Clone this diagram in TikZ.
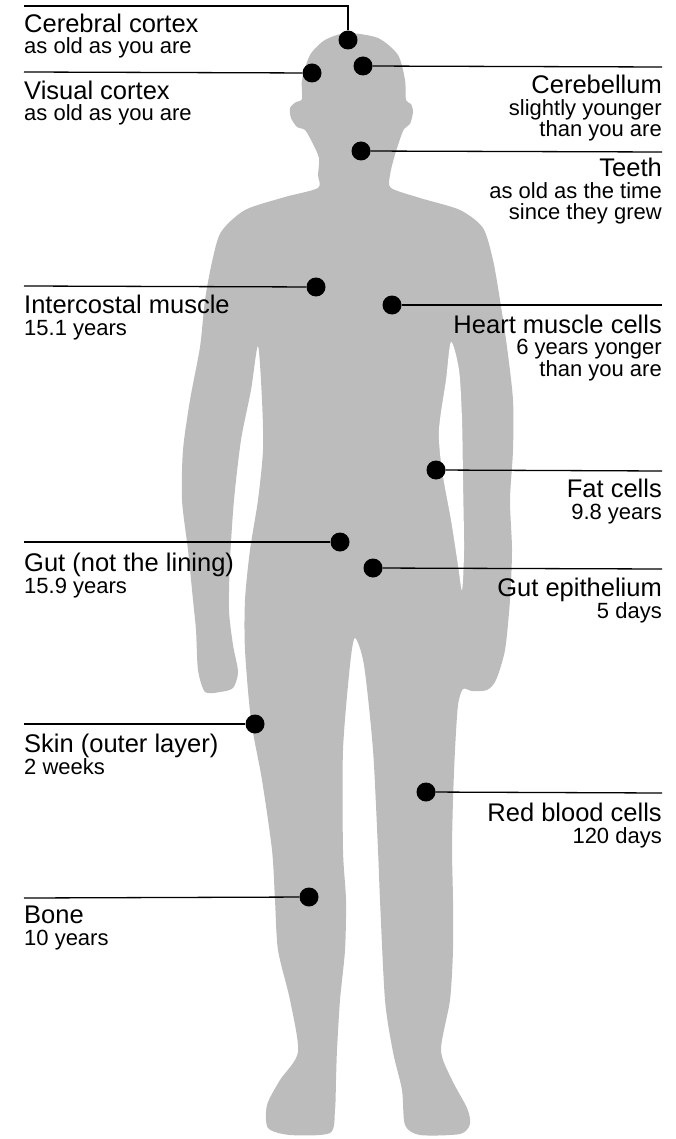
\documentclass[tikz,border=0pt]{standalone}
\usepackage{fontspec}
\setmainfont{Liberation Sans}
\definecolor{bodygray}{RGB}{188,188,188}
\newcommand\labelhead[1]{{\fontsize{25.5}{21.5}\selectfont #1}}
\begin{document}
\begin{tikzpicture}[x=1pt,y=-1pt,
  dot/.style={circle,fill=black,inner sep=0pt,minimum size=19pt},
  lead/.style={line width=1.3pt,black},
  lbl/.style={inner sep=0pt,font=\fontsize{22}{21.5}\selectfont},
  lleft/.style={lbl,anchor=base west,align=left},
  lright/.style={lbl,anchor=base east,align=right}]
\useasboundingbox (0,0) rectangle (676,1139);

% body silhouette
\fill[bodygray] plot[smooth cycle,tension=0.45] coordinates {
  (347,33) (378,38) (398,55) (405,80) (406,100)
  (411,104) (413,112) (410,124) (404,129)
  (399,142) (394,158) (390,175) (391,188)
  (420,198) (460,210) (483,228) (493,260)
  (500,300) (507,347) (513,400) (513,450) (510,500) (512,550) (510,600) (505,650) (496,680) (487,690) (472,691) (463,689)
  (458,705) (455,750) (453,800) (452,850) (453,900) (453,950) (450,1000) (441,1050)
  (452,1080) (467,1108) (470,1124) (460,1134) (420,1135) (405,1125) (402,1090) (393,1052)
  (385,1000) (380,900) (378,850) (373,750) (364,665) (355,638)
  (350,665) (343,750) (343,850) (346,900) (345,950) (340,1000) (337,1050)
  (336,1080) (335,1110) (330,1133) (290,1135) (268,1128) (267,1105) (280,1080) (298,1052)
  (290,1000) (278,950) (275,900) (272,850) (262,780) (251,720) (245,650) (245,600) (250,550) (258,500) (263,450) (262,400) (258,346)
  (251,390) (241,440) (234,500) (230,560) (229,610) (233,645) (238,672) (233,688) (220,692)
  (205,692) (198,670) (196,630) (193,600) (188,550) (182,500) (183,450) (190,400) (200,347) (205,300) (212,262) (221,232)
  (245,210) (285,197) (318,188)
  (318,175) (319,158) (312,142) (305,130)
  (297,127) (291,118) (290,108) (296,102) (302,99)
  (302,80) (310,55) (325,40)
};
% gap between the right arm and the torso
\fill[white] plot[smooth cycle,tension=0.5] coordinates {
  (451,342) (446,380) (439,430) (442,470) (451,520) (458,565) (462,590) (464,550) (463,480) (462,420) (459,370)
};

% markers
\node[dot] (cc) at (348,40) {};
\node[dot] (vc) at (312,73) {};
\node[dot] (cb) at (363,66) {};
\node[dot] (te) at (361,151) {};
\node[dot] (ic) at (316,287) {};
\node[dot] (hm) at (392,305) {};
\node[dot] (fc) at (436,470) {};
\node[dot] (gn) at (340,542) {};
\node[dot] (ge) at (373,568) {};
\node[dot] (sk) at (255,724) {};
\node[dot] (rb) at (426,792) {};
\node[dot] (bo) at (309,897) {};

% ends of the leader lines
\coordinate (ccE) at (24,6);
\coordinate (vcE) at (24,72);
\coordinate (cbE) at (662,67);
\coordinate (teE) at (662,152);
\coordinate (icE) at (24,286);
\coordinate (hmE) at (662,305);
\coordinate (fcE) at (662,471);
\coordinate (gnE) at (24,542);
\coordinate (geE) at (662,569);
\coordinate (skE) at (24,724);
\coordinate (rbE) at (662,793);
\coordinate (boE) at (24,898);

\draw[lead] (cc) |- (ccE);
\draw[lead] (vc) -- (vcE);
\draw[lead] (cb) -- (cbE);
\draw[lead] (te) -- (teE);
\draw[lead] (ic) -- (icE);
\draw[lead] (hm) -- (hmE);
\draw[lead] (fc) -- (fcE);
\draw[lead] (gn) -- (gnE);
\draw[lead] (ge) -- (geE);
\draw[lead] (sk) -- (skE);
\draw[lead] (rb) -- (rbE);
\draw[lead] (bo) -- (boE);

% labels (placed by the baseline of their last line)
\node[lleft] (ccT) at (24,54) {\labelhead{Cerebral cortex}\\as old as you are};
\node[lleft] (vcT) at (24,121) {\labelhead{Visual cortex}\\as old as you are};
\node[lright] (cbT) at (662,137) {\labelhead{Cerebellum}\\slightly younger\\than you are};
\node[lright] (teT) at (662,220) {\labelhead{Teeth}\\as old as the time\\since they grew};
\node[lleft] (icT) at (24,335) {\labelhead{Intercostal muscle}\\15.1 years};
\node[lright] (hmT) at (662,376) {\labelhead{Heart muscle cells}\\6 years yonger\\than you are};
\node[lright] (fcT) at (662,519) {\labelhead{Fat cells}\\9.8 years};
\node[lleft] (gnT) at (24,593) {\labelhead{Gut (not the lining)}\\15.9 years};
\node[lright] (geT) at (662,618) {\labelhead{Gut epithelium}\\5 days};
\node[lleft] (skT) at (24,774) {\labelhead{Skin (outer layer)}\\2 weeks};
\node[lright] (rbT) at (662,843) {\labelhead{Red blood cells}\\120 days};
\node[lleft] (boT) at (24,945) {\labelhead{Bone}\\10 years};
\end{tikzpicture}
\end{document}
